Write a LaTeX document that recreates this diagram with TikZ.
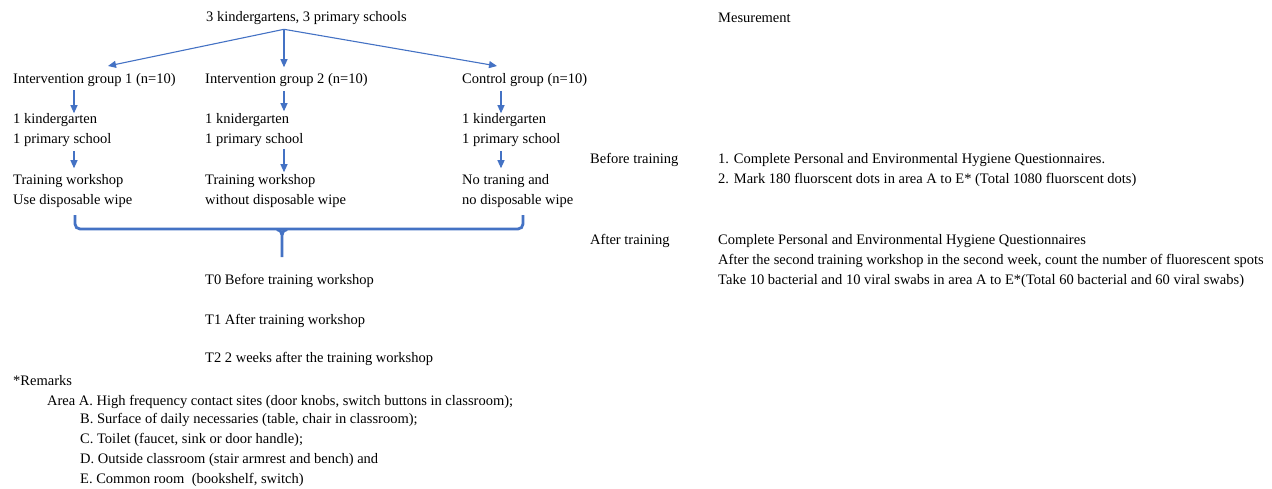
\documentclass[tikz,border=0pt]{standalone}
\usepackage{fontspec}
\setmainfont{Liberation Serif}
\usepackage{xcolor}
\usetikzlibrary{arrows.meta,positioning,calc}
\definecolor{flowblue}{HTML}{4472C4}

\tikzset{
  txt/.style={anchor=west, inner sep=0pt, align=left,
    font=\fontsize{14.5}{20}\selectfont},
  arr/.style={-{Triangle[length=8pt,width=7pt]}, flowblue, line width=1.1pt},
  brace/.style={flowblue, line width=2.8pt}
}

\begin{document}
\begin{tikzpicture}[x=1pt,y=-1pt]
    \useasboundingbox (0,0) rectangle (1272,488);

    % columns of the arrows
    \coordinate (c1) at (74,0);
    \coordinate (c2) at (284,0);
    \coordinate (c3) at (501,0);
    \coordinate (tip1) at (108,66);
    \coordinate (tip3) at (497,66);

    \node[txt] (top) at (206,18) {3 kindergartens, 3 primary schools};
    \node[txt] (meas) at (718,18) {Mesurement};

    \node[txt] (g1) at (13,80) {Intervention group 1 (n=10)};
    \node[txt] (g2) at (205,80) {Intervention group 2 (n=10)};
    \node[txt] (g3) at (462,80) {Control group (n=10)};

    \node[txt] (s1) at (13,130) {1 kindergarten\\1 primary school};
    \node[txt] (s2) at (205,130) {1 knidergarten\\1 primary school};
    \node[txt] (s3) at (462,130) {1 kindergarten\\1 primary school};

    \node[txt] (w1) at (13,191) {Training workshop\\Use disposable wipe};
    \node[txt] (w2) at (205,191) {Training workshop\\without disposable wipe};
    \node[txt] (w3) at (462,191) {No traning and\\no disposable wipe};

    \coordinate (split) at ($(top.south -| c2)+(0,4.5)$);
    \draw[arr] (split) -- (tip1);
    \draw[arr] (split) -- ($(g2.north -| c2)+(0,-6)$);
    \draw[arr] (split) -- (tip3);

    \draw[arr] ($(g1.south -| c1)+(0,3)$) -- ($(s1.north -| c1)+(0,0)$);
    \draw[arr] ($(g2.south -| c2)+(0,4)$) -- ($(s2.north -| c2)+(0,-2)$);
    \draw[arr] ($(g3.south -| c3)+(0,4)$) -- ($(s3.north -| c3)+(0,0)$);

    \draw[arr] ($(s1.south -| c1)+(0,4)$) -- ($(w1.north -| c1)+(0,-6)$);
    \draw[arr] ($(s2.south -| c2)+(0,2)$) -- ($(w2.north -| c2)+(0,-2)$);
    \draw[arr] ($(s3.south -| c3)+(0,4)$) -- ($(w3.north -| c3)+(0,-6)$);

    % brace under the groups
    \coordinate (bl) at (75,215);
    \coordinate (br) at (523,215);
    \coordinate (bm) at (282,257);
    \draw[brace, rounded corners=5pt] (bl) -- (75,229) -- (523,229) -- (br);
    \draw[brace] (277,229.5) to[out=0,in=90] (282,235) -- (bm);
    \draw[brace] (287,229.5) to[out=180,in=90] (282,235);

    \node[txt] (t0) at (205,281) {T0 Before training workshop};
    \node[txt] (t1) at (205,321) {T1 After training workshop};
    \node[txt] (t2) at (205,359) {T2 2 weeks after the training workshop};

    \node[txt] (rem) at (13,381) {*Remarks};
    \node[txt] (ra) at (47,402) {Area A. High frequency contact sites (door knobs, switch buttons in classroom);};
    \node[txt, anchor=north west] (rb) at ($(ra.south west)+(33,4)$) {B. Surface of daily necessaries (table, chair in classroom);\\
      C. Toilet (faucet, sink or door handle);\\
      D. Outside classroom (stair armrest and bench) and\\
      E. Common room\ \ (bookshelf, switch)};

    \node[txt] (bt) at (590,160) {Before training};
    \node[txt] (bt1) at (718,170) {1. Complete Personal and Environmental Hygiene Questionnaires.\\
      2. Mark 180 fluorscent dots in area A to E* (Total 1080 fluorscent dots)};

    \node[txt] (at) at (590,241) {After training};
    \node[txt] (at1) at (718,261) {Complete Personal and Environmental Hygiene Questionnaires\\
      After the second training workshop in the second week, count the number of fluorescent spots\\
      Take 10 bacterial and 10 viral swabs in area A to E*(Total 60 bacterial and 60 viral swabs)};
\end{tikzpicture}
\end{document}
